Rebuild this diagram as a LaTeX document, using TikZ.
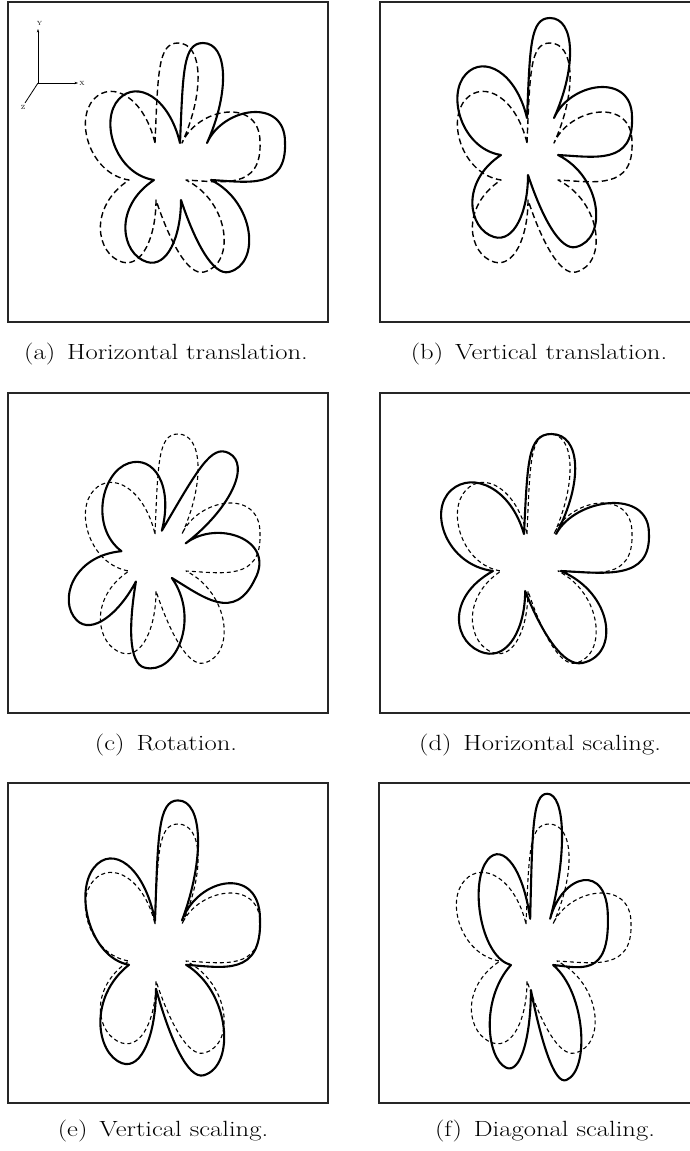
\documentclass[tikz,border=0pt]{standalone}
\usepackage{graphicx}
\usetikzlibrary{arrows.meta}
\newcommand\flowerpath{%
 (147,141) .. controls (150,70) and (150,41) .. (170,41)
 .. controls (195,41) and (197,90) .. (174,141)
 .. controls (190,105) and (252,95) .. (252,140)
 .. controls (254,188) and (215,180) .. (178,178)
 .. controls (222,200) and (228,262) .. (196,270)
 .. controls (180,274) and (162,240) .. (148,198)
 .. controls (148,235) and (134,266) .. (114,260)
 .. controls (88,252) and (80,205) .. (121,178)
 .. controls (82,172) and (66,118) .. (86,97)
 .. controls (104,78) and (136,95) .. (147,141) -- cycle}
\tikzset{
  panelbox/.style={draw=black!85, line width=2.6pt},
  solidfl/.style={draw=black, line width=2.1pt, line join=round},
  dashheavy/.style={draw=black, line width=1.4pt, dash pattern=on 6pt off 3.5pt, line join=round},
  dashlight/.style={draw=black, line width=1.1pt, dash pattern=on 4pt off 3pt, line join=round},
  captext/.style={anchor=base, inner sep=0pt, font=\fontsize{22}{26}\selectfont},
  axisarrow/.style={line width=0.8pt, -{Stealth[length=3.5pt,width=2.4pt]}},
  axlab/.style={inner sep=0pt, font=\fontsize{6}{7}\selectfont}
}
\newcommand\captxt[1]{\scalebox{1.21}[1]{#1}}
\begin{document}
\begin{tikzpicture}[x=1pt, y=-1pt]
\useasboundingbox (0,0) rectangle (689,1151);
\fill[white] (0,0) rectangle (689,1151);

% (a) horizontal translation
\begin{scope}[shift={(8,2)}]
  \draw[panelbox] (0,0) rectangle (320,320);
  \draw[dashheavy] \flowerpath;
  \draw[solidfl, shift={(25,0)}] \flowerpath;
  \coordinate (o) at (30,81);
  \coordinate (ye) at (30,27);
  \coordinate (xe) at (70,81);
  \coordinate (ze) at (17,101);
  \draw[axisarrow] (o) -- (ye);
  \draw[axisarrow] (o) -- (xe);
  \draw[line width=0.8pt] (o) -- (ze);
  \node[axlab] (ly) at (31.5,21.5) {Y};
  \node[axlab] (lx) at (74,81) {X};
  \node[axlab] (lz) at (15,105) {Z};
\end{scope}

% (b) vertical translation
\begin{scope}[shift={(380,2)}]
  \draw[panelbox] (0,0) rectangle (320,320);
  \draw[dashheavy] \flowerpath;
  \draw[solidfl, shift={(0,-25)}] \flowerpath;
\end{scope}

% (c) rotation
\begin{scope}[shift={(8,393)}]
  \draw[panelbox] (0,0) rectangle (320,320);
  \draw[dashlight] \flowerpath;
  \draw[solidfl, rotate around={-28:(157,153)}] \flowerpath;
\end{scope}

% (d) horizontal scaling
\begin{scope}[shift={(380,393)}]
  \draw[panelbox] (0,0) rectangle (320,320);
  \draw[dashlight] \flowerpath;
  \draw[solidfl, shift={(163,0)}, xscale=1.19, shift={(-163,0)}] \flowerpath;
\end{scope}

% (e) vertical scaling
\begin{scope}[shift={(8,783)}]
  \draw[panelbox] (0,0) rectangle (320,320);
  \draw[dashlight] \flowerpath;
  \draw[solidfl, shift={(0,159)}, yscale=1.2, shift={(0,-159)}] \flowerpath;
\end{scope}

% (f) diagonal scaling
\begin{scope}[shift={(379,783)}]
  \draw[panelbox] (0,0) rectangle (320,320);
  \draw[dashlight] \flowerpath;
  \draw[solidfl, shift={(163,162)}, xscale=0.74, yscale=1.25, shift={(-163,-162)}] \flowerpath;
\end{scope}

\node[captext] (capa) at (166,359) {\captxt{(a)\hspace{0.45em}Horizontal translation.}};
\node[captext] (capb) at (539,359) {\captxt{(b)\hspace{0.45em}Vertical translation.}};
\node[captext] (capc) at (166,750) {\captxt{(c)\hspace{0.45em}Rotation.}};
\node[captext] (capd) at (540,750) {\captxt{(d)\hspace{0.45em}Horizontal scaling.}};
\node[captext] (cape) at (163,1136) {\captxt{(e)\hspace{0.45em}Vertical scaling.}};
\node[captext] (capf) at (545,1136) {\captxt{(f)\hspace{0.45em}Diagonal scaling.}};
\end{tikzpicture}
\end{document}
